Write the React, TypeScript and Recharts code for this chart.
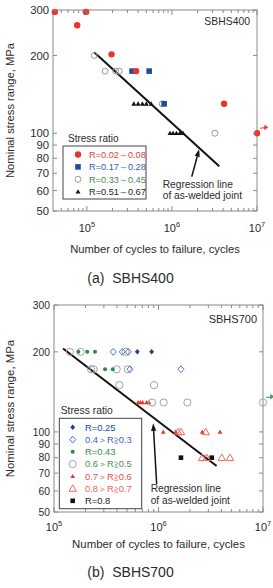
import React from "react";
import { ScatterChart, Scatter, XAxis, YAxis, ReferenceLine, ReferenceArea, Legend } from "recharts";

const FONT = '"Liberation Sans", Arial, Helvetica, sans-serif';
const INK = "#2b2b2b";
const AXIS = "#8a8a8a";

// [cycles to failure, stress range (MPa), runout flag]
const a_R002_008 = [[4.2e4, 295], [7.7e4, 262], [9.8e4, 295], [1.95e5, 202], [3.8e5, 174], [4.1e6, 130], [1e7, 100, 1]];
const a_R017_028 = [[3.4e5, 174], [5.4e5, 174], [8.1e5, 130]];
const a_R033_045 = [[1.22e5, 200], [1.64e5, 174], [2.18e5, 174], [2.4e5, 174], [7.7e5, 130], [3.2e6, 100]];
const a_R051_067 = [
  [3.57e5, 130], [4.0e5, 130], [4.5e5, 130], [5.0e5, 130], [5.7e5, 130],
  [9.5e5, 100], [1.03e6, 100], [1.13e6, 100], [1.24e6, 100], [1.35e6, 100],
];

const b_R025 = [[6.27e5, 200], [8.6e5, 200]];
const b_R03_04 = [[3.69e5, 200], [4.5e5, 200], [5.14e5, 200], [5.33e5, 172], [1.64e6, 172]];
const b_R043 = [[1.71e5, 200], [2.08e5, 200], [2.47e5, 200], [3.08e5, 172], [3.65e5, 172]];
const b_R05_06 = [
  [1.42e5, 200], [1.8e5, 200], [4.85e5, 200],
  [2.26e5, 172], [2.39e5, 172], [3.98e5, 172], [5.07e5, 172],
  [4.22e5, 150], [9.06e5, 150],
  [8.67e5, 129], [1.12e6, 129], [1.89e6, 129], [1e7, 129, 1],
];
const b_R06_07 = [
  [6.37e5, 129], [6.7e5, 129], [7.06e5, 129], [7.7e5, 129], [8.1e5, 129],
  [1.11e6, 100], [1.46e6, 100], [2.62e6, 100], [3.88e6, 100],
];
const b_R07_08 = [[1.54e6, 100], [1.64e6, 100], [2.83e6, 100], [2.62e6, 80], [2.89e6, 80], [4.03e6, 80], [4.83e6, 80]];
const b_R08 = [[1.64e6, 80], [3.23e6, 80]];

// regression line of the as-welded joint and the pointer to it (tail, tip)
const regLine = [[1.22e5, 206], [3.6e6, 74.5]];
const pointerA = [[1.71e6, 67.9], [2.09e6, 86.7]];
const pointerB = [[9.6e5, 63.7], [8.9e5, 107.7]];

const yTicks = [50, 60, 70, 80, 90, 100, 200, 300];
const xTicksA = [5e4, 6e4, 7e4, 8e4, 9e4, 1e5, 2e5, 3e5, 4e5, 5e5, 6e5, 7e5, 8e5, 9e5, 1e6, 2e6, 3e6, 4e6, 5e6, 6e6, 7e6, 8e6, 9e6, 1e7];
const xTicksB = [1e5, 2e5, 3e5, 4e5, 5e5, 6e5, 7e5, 8e5, 9e5, 1e6, 2e6, 3e6, 4e6, 5e6, 6e6, 7e6, 8e6, 9e6, 1e7];

type Kind = "dot" | "square" | "ring" | "tri" | "openTri" | "diamond" | "openDiamond";
type Series = { name: string; data: number[][]; kind: Kind; r: number; color: string; text: string; arrow?: string };

const seriesA: Series[] = [
  { name: "R=0.02～0.08", data: a_R002_008, kind: "dot", r: 3.2, color: "#e8362a", text: "#e0413a", arrow: "#e8362a" },
  { name: "R=0.17～0.28", data: a_R017_028, kind: "square", r: 2.8, color: "#1f4c9c", text: "#2f5db4" },
  { name: "R=0.33～0.45", data: a_R033_045, kind: "ring", r: 3, color: "#9c9c9c", text: "#4b8a52" },
  { name: "R=0.51～0.67", data: a_R051_067, kind: "tri", r: 2.5, color: "#111", text: "#222" },
];

const seriesB: Series[] = [
  { name: "R=0.25", data: b_R025, kind: "diamond", r: 2.4, color: "#1c3c96", text: "#2448a8" },
  { name: "0.4＞R≧0.3", data: b_R03_04, kind: "openDiamond", r: 3, color: "#5274cc", text: "#3a5fc4" },
  { name: "R=0.43", data: b_R043, kind: "dot", r: 2, color: "#2e8b3c", text: "#3d8b46" },
  { name: "0.6＞R≧0.5", data: b_R05_06, kind: "ring", r: 3.6, color: "#a3a3a3", text: "#4b8f4f", arrow: "#3d9a45" },
  { name: "0.7＞R≧0.6", data: b_R06_07, kind: "tri", r: 2.4, color: "#ea3a2c", text: "#e8503f" },
  { name: "0.8＞R≧0.7", data: b_R07_08, kind: "openTri", r: 3.7, color: "#f0695b", text: "#ee6555" },
  { name: "R=0.8", data: b_R08, kind: "square", r: 2.3, color: "#111", text: "#222" },
];

function Mark({ kind, cx, cy, r, color, arrow }: { kind: Kind; cx: number; cy: number; r: number; color: string; arrow?: string }) {
  let m: React.ReactNode = null;
  const tri = `${cx},${cy - r} ${cx + r},${cy + r * 0.75} ${cx - r},${cy + r * 0.75}`;
  const dia = `${cx},${cy - r * 1.15} ${cx + r},${cy} ${cx},${cy + r * 1.15} ${cx - r},${cy}`;
  if (kind === "dot") m = <circle cx={cx} cy={cy} r={r} fill={color} />;
  if (kind === "ring") m = <circle cx={cx} cy={cy} r={r} fill="none" stroke={color} strokeWidth={1} />;
  if (kind === "square") m = <rect x={cx - r} y={cy - r} width={r * 2} height={r * 2} fill={color} />;
  if (kind === "tri") m = <polygon points={tri} fill={color} />;
  if (kind === "openTri") m = <polygon points={tri} fill="none" stroke={color} strokeWidth={1} />;
  if (kind === "diamond") m = <polygon points={dia} fill={color} />;
  if (kind === "openDiamond") m = <polygon points={dia} fill="none" stroke={color} strokeWidth={1} />;
  return (
    <g>
      {m}
      {arrow && (
        <g stroke={arrow} fill={arrow}>
          <line x1={cx + 3} y1={cy - 5} x2={cx + 8} y2={cy - 5.6} strokeWidth={1} />
          <polygon points={`${cx + 11},${cy - 6} ${cx + 7.5},${cy - 8} ${cx + 7.5},${cy - 3.6}`} strokeWidth={0.5} />
        </g>
      )}
    </g>
  );
}

type PanelCfg = {
  top: number;
  height: number;
  mTop: number;
  mRight: number;
  yWidth: number;
  xHeight: number;
  xMin: number;
  xTicks: number[];
  series: Series[];
  tag: string;
  tagFs: number;
  tagDx: number;
  tagDy: number;
  yFs: number;
  xFs: number;
  xDy: number;
  titleFs: number;
  xTitleOffset: number;
  yTitleOffset: number;
  pointer: number[][];
  noteDx: number;
  noteDy: number;
  noteGap: number;
  legend: { x: number; y: number; w: number; h: number; tx: number; ty: number; row0: number; rowH: number; mx: number; lx: number; titleFs: number; fs: number };
  caption: string;
  captionY: number;
};

const panelA: PanelCfg = {
  top: 0, height: 260, mTop: 10, mRight: 16, yWidth: 53, xHeight: 49,
  xMin: 4e4, xTicks: xTicksA, series: seriesA,
  tag: "SBHS400", tagFs: 10.4, tagDx: 7, tagDy: 11.7,
  yFs: 11.3, xFs: 11, xDy: 21, titleFs: 11.2, xTitleOffset: 7, yTitleOffset: 10,
  pointer: pointerA, noteDx: -29, noteDy: 11.8, noteGap: 11,
  legend: { x: 63, y: 146, w: 83, h: 53, tx: 68, ty: 138, row0: 154.5, rowH: 12.4, mx: 78, lx: 89, titleFs: 10, fs: 9.2 },
  caption: "(a)  SBHS400", captionY: 278,
};

const panelB: PanelCfg = {
  top: 290, height: 270, mTop: 15, mRight: 10, yWidth: 54, xHeight: 48,
  xMin: 1e5, xTicks: xTicksB, series: seriesB,
  tag: "SBHS700", tagFs: 11, tagDx: 6, tagDy: 14.3,
  yFs: 10.3, xFs: 11, xDy: 18.5, titleFs: 11.4, xTitleOffset: 12, yTitleOffset: 10,
  pointer: pointerB, noteDx: -6, noteDy: 8, noteGap: 11.7,
  legend: { x: 59.3, y: 128.3, w: 82.4, h: 90.4, tx: 60.7, ty: 120.7, row0: 137.3, rowH: 12.25, mx: 72.7, lx: 85, titleFs: 10.3, fs: 9.4 },
  caption: "(b)  SBHS700", captionY: 571.7,
};

function XTick(props: any) {
  const { x, y, payload, plotH, fs, dy } = props;
  const lg = Math.log10(payload.value);
  const e = Math.round(lg);
  const major = Math.abs(lg - e) < 1e-6;
  const len = major ? 5 : 3;
  return (
    <g>
      <line x1={x} x2={x} y1={y} y2={y - len} stroke={AXIS} />
      <line x1={x} x2={x} y1={y - plotH} y2={y - plotH + len} stroke={AXIS} />
      {major && (
        <text x={x} y={y + dy} textAnchor="middle" fontSize={fs} fill={INK} fontFamily={FONT}>
          10
          <tspan fontSize={fs * 0.68} dy={-5}>{e}</tspan>
        </text>
      )}
    </g>
  );
}

function YTick(props: any) {
  const { x, y, payload, plotW, fs } = props;
  return (
    <g>
      <line x1={x} x2={x + 4} y1={y} y2={y} stroke={AXIS} />
      <line x1={x + plotW} x2={x + plotW - 4} y1={y} y2={y} stroke={AXIS} />
      <text x={x - 4} y={y} dy="0.36em" textAnchor="end" fontSize={fs} fill={INK} fontFamily={FONT}>
        {payload.value}
      </text>
    </g>
  );
}

function Frame(props: any) {
  const { x, y, width, height, tag, fs, dx, dy } = props;
  return (
    <g>
      <rect x={x} y={y} width={width} height={height} fill="none" stroke={AXIS} strokeWidth={1} />
      <text x={x + width - dx} y={y + dy} dy="0.36em" textAnchor="end" fontSize={fs} fill={INK} fontFamily={FONT}>
        {tag}
      </text>
    </g>
  );
}

function Pointer(props: any) {
  const { x1, y1, x2, y2, dx, dy, gap } = props;
  const ang = Math.atan2(y2 - y1, x2 - x1);
  const hl = 7.5;
  const hw = 2.6;
  const bx = x2 - hl * Math.cos(ang);
  const by = y2 - hl * Math.sin(ang);
  const px = -Math.sin(ang) * hw;
  const py = Math.cos(ang) * hw;
  return (
    <g>
      <line x1={x1} y1={y1} x2={bx} y2={by} stroke="#111" strokeWidth={1.5} />
      <polygon points={`${x2},${y2} ${bx + px},${by + py} ${bx - px},${by - py}`} fill="#111" />
      <text x={x1 + dx} y={y1 + dy} fontSize={10.2} fill={INK} fontFamily={FONT}>
        <tspan x={x1 + dx}>Regression line</tspan>
        <tspan x={x1 + dx} dy={gap}>of as-welded joint</tspan>
      </text>
    </g>
  );
}

function LegendBox({ cfg, series, w, h }: { cfg: PanelCfg["legend"]; series: Series[]; w: number; h: number }) {
  return (
    <svg width={w} height={h} style={{ position: "absolute", left: 0, top: 0, pointerEvents: "none" }}>
      <text x={cfg.tx} y={cfg.ty} dy="0.36em" fontSize={cfg.titleFs} fill={INK} fontFamily={FONT}>
        Stress ratio
      </text>
      <rect x={cfg.x} y={cfg.y} width={cfg.w} height={cfg.h} fill="#fff" stroke="#444" strokeWidth={1} />
      {series.map((s, i) => {
        const cy = cfg.row0 + i * cfg.rowH;
        return (
          <g key={s.name}>
            <Mark kind={s.kind} cx={cfg.mx} cy={cy} r={s.r} color={s.color} />
            <text x={cfg.lx} y={cy} dy="0.36em" fontSize={cfg.fs} fill={s.text} fontFamily={FONT}>
              {s.name}
            </text>
          </g>
        );
      })}
    </svg>
  );
}

function Panel({ p }: { p: PanelCfg }) {
  const W = 273;
  const plotH = p.height - p.mTop - p.xHeight;
  const plotW = W - p.mRight - p.yWidth;
  const seg = (pts: number[][]) => pts.map(([x, y]) => ({ x, y }));
  return (
    <div style={{ position: "absolute", left: 0, top: p.top, width: W, height: p.height }}>
      <ScatterChart width={W} height={p.height} margin={{ top: p.mTop, right: p.mRight, bottom: 0, left: 0 }}>
        <XAxis
          dataKey="n"
          type="number"
          scale="log"
          domain={[p.xMin, 1e7]}
          ticks={p.xTicks}
          interval={0}
          tickSize={0}
          tickMargin={0}
          axisLine={false}
          height={p.xHeight}
          tick={(t: any) => <XTick {...t} plotH={plotH} fs={p.xFs} dy={p.xDy} />}
          label={{
            value: "Number of cycles to failure, cycles",
            position: "insideBottom",
            offset: p.xTitleOffset,
            style: { fontSize: p.titleFs, fill: INK, fontFamily: FONT },
          }}
        />
        <YAxis
          dataKey="s"
          type="number"
          scale="log"
          domain={[50, 300]}
          ticks={yTicks}
          interval={0}
          tickSize={0}
          tickMargin={0}
          axisLine={false}
          width={p.yWidth}
          tick={(t: any) => <YTick {...t} plotW={plotW} fs={p.yFs} />}
          label={{
            value: "Nominal stress range, MPa",
            angle: -90,
            position: "insideLeft",
            offset: p.yTitleOffset,
            style: { textAnchor: "middle", fontSize: p.titleFs, fill: INK, fontFamily: FONT },
          }}
        />
        <ReferenceArea
          x1={p.xMin}
          x2={1e7}
          y1={50}
          y2={300}
          ifOverflow="visible"
          shape={(r: any) => <Frame {...r} tag={p.tag} fs={p.tagFs} dx={p.tagDx} dy={p.tagDy} />}
        />
        <ReferenceLine segment={seg(regLine)} stroke="#111" strokeWidth={2} ifOverflow="visible" />
        <ReferenceLine
          segment={seg(p.pointer)}
          ifOverflow="visible"
          shape={(l: any) => <Pointer {...l} dx={p.noteDx} dy={p.noteDy} gap={p.noteGap} />}
        />
        {[...p.series].reverse().map((s) => (
          <Scatter
            key={s.name}
            name={s.name}
            data={s.data.map(([n, v, ro]) => ({ n, s: v, runout: !!ro }))}
            isAnimationActive={false}
            shape={(q: any) => (
              <Mark kind={s.kind} cx={q.cx} cy={q.cy} r={s.r} color={s.color} arrow={q.payload?.runout ? s.arrow : undefined} />
            )}
          />
        ))}
        <Legend
          layout="horizontal"
          verticalAlign="middle"
          align="center"
          wrapperStyle={{ left: 0, top: 0, width: W, height: p.height, pointerEvents: "none" }}
          content={() => <LegendBox cfg={p.legend} series={p.series} w={W} h={p.height} />}
        />
      </ScatterChart>
    </div>
  );
}

export default function App() {
  return (
    <div style={{ position: "absolute", left: 0, top: 0, width: 273, height: 588, background: "#fff", fontFamily: FONT }}>
      <Panel p={panelA} />
      <Panel p={panelB} />
      {[panelA, panelB].map((p) => (
        <div
          key={p.caption}
          style={{
            position: "absolute",
            left: 30,
            width: 201,
            top: p.captionY - 9,
            height: 18,
            lineHeight: "18px",
            textAlign: "center",
            fontSize: 14,
            color: INK,
            whiteSpace: "pre",
          }}
        >
          {p.caption}
        </div>
      ))}
    </div>
  );
}
